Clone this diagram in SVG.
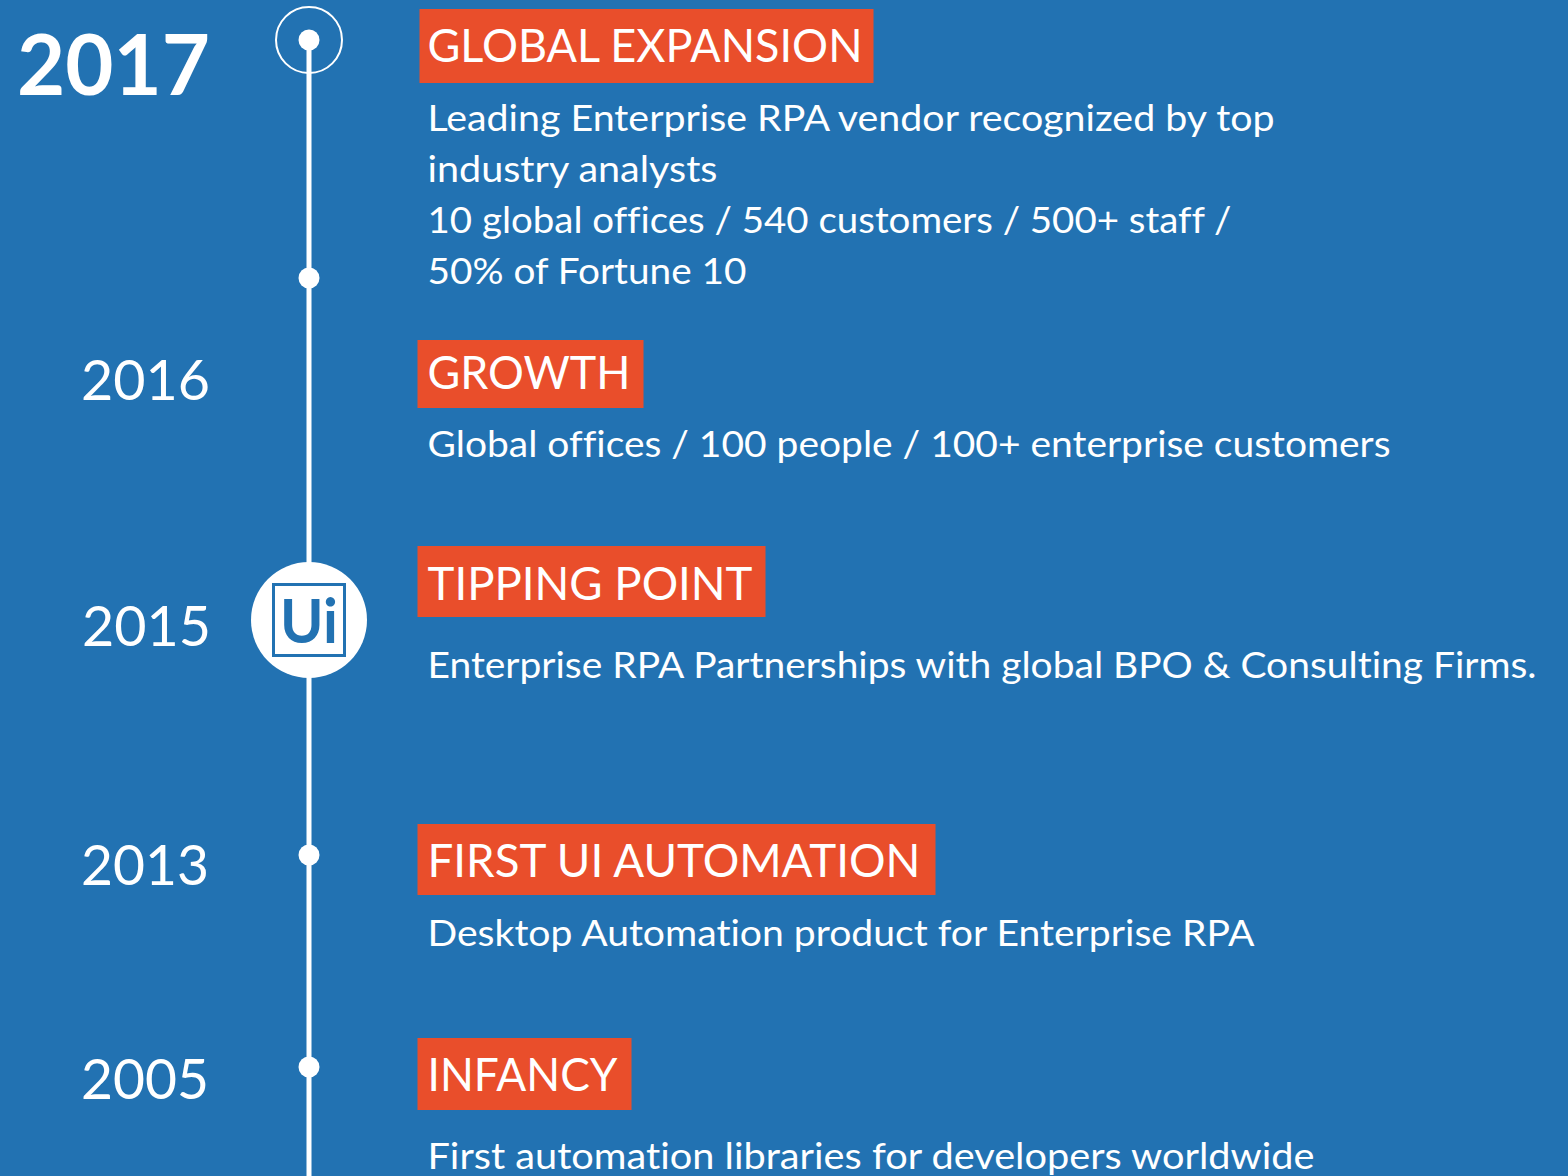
<svg xmlns="http://www.w3.org/2000/svg" width="1568" height="1176" viewBox="0 0 1568 1176">
<style>
text{font-family:Lato,"Open Sans","Liberation Sans",sans-serif;fill:#fff;font-variant-ligatures:none}
.y{font-size:57px}
.h{font-size:47px}
.b{font-size:37px}
.o{fill:#e94e2b}
.d{fill:#fff}
</style>
<rect width="1568" height="1176" fill="#2272b2"/>
<g id="connectors"><line x1="309" y1="40" x2="309" y2="1176" stroke="#fff" stroke-width="5"/></g>
<g id="n2017"><circle cx="309" cy="40" r="33" fill="none" stroke="#fff" stroke-width="2"/><circle class="d" cx="309" cy="40" r="10.5"/><circle class="d" cx="309" cy="278" r="10.5"/>
<text x="17" y="95" textLength="193" lengthAdjust="spacingAndGlyphs" style="font-size:85px;font-weight:700">2017</text>
<rect class="o" x="419.500" y="9" width="454" height="74"/><text x="427.500" y="62" class="h" textLength="435" lengthAdjust="spacingAndGlyphs">GLOBAL EXPANSION</text>
<text x="427.500" y="131" class="b" textLength="847" lengthAdjust="spacingAndGlyphs">Leading Enterprise RPA vendor recognized by top</text>
<text x="427.500" y="182" class="b" textLength="290" lengthAdjust="spacingAndGlyphs">industry analysts</text>
<text x="427.500" y="233" class="b" textLength="804" lengthAdjust="spacingAndGlyphs">10 global offices / 540 customers / 500+ staff /</text>
<text x="427.500" y="284" class="b" textLength="319" lengthAdjust="spacingAndGlyphs">50% of Fortune 10</text></g>
<g id="n2016"><text x="81" y="400" class="y" textLength="129" lengthAdjust="spacingAndGlyphs">2016</text>
<rect class="o" x="417.500" y="340" width="226" height="68"/><text x="427.500" y="389" class="h" textLength="203" lengthAdjust="spacingAndGlyphs">GROWTH</text>
<text x="427.500" y="457" class="b" textLength="963" lengthAdjust="spacingAndGlyphs">Global offices / 100 people / 100+ enterprise customers</text></g>
<g id="n2015"><circle class="d" cx="309" cy="620" r="58"/>
<rect x="273.500" y="584.500" width="71" height="71" fill="#fff" stroke="#2272b2" stroke-width="3"/>
<text x="280" y="643" textLength="58" lengthAdjust="spacingAndGlyphs" style="font-size:62px;font-weight:700;fill:#2272b2">Ui</text>
<text x="82" y="646" class="y" textLength="129" lengthAdjust="spacingAndGlyphs">2015</text>
<rect class="o" x="417.500" y="546" width="348" height="71"/><text x="427.500" y="600" class="h" textLength="325" lengthAdjust="spacingAndGlyphs">TIPPING POINT</text>
<text x="427.500" y="678" class="b" textLength="1109" lengthAdjust="spacingAndGlyphs">Enterprise RPA Partnerships with global BPO &amp; Consulting Firms.</text></g>
<g id="n2013"><circle class="d" cx="309" cy="855" r="10.5"/><text x="81" y="885" class="y" textLength="128" lengthAdjust="spacingAndGlyphs">2013</text>
<rect class="o" x="417.500" y="824" width="518" height="71"/><text x="427.500" y="877" class="h" textLength="493" lengthAdjust="spacingAndGlyphs">FIRST UI AUTOMATION</text>
<text x="427.500" y="946" class="b" textLength="827" lengthAdjust="spacingAndGlyphs">Desktop Automation product for Enterprise RPA</text></g>
<g id="n2005"><circle class="d" cx="309" cy="1067" r="10.5"/><text x="81" y="1099" class="y" textLength="128" lengthAdjust="spacingAndGlyphs">2005</text>
<rect class="o" x="417.500" y="1038" width="214" height="72"/><text x="427.500" y="1091" class="h" textLength="190" lengthAdjust="spacingAndGlyphs">INFANCY</text>
<text x="427.500" y="1169" class="b" textLength="887" lengthAdjust="spacingAndGlyphs">First automation libraries for developers worldwide</text></g>
</svg>
